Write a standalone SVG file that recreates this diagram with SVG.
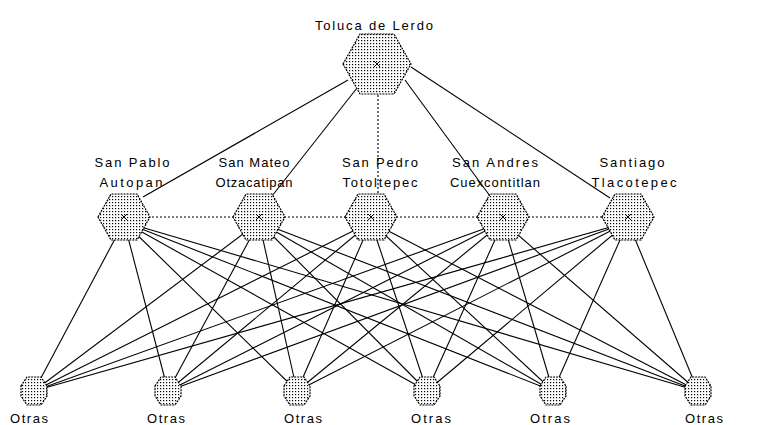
<svg xmlns="http://www.w3.org/2000/svg" width="774" height="425" viewBox="0 0 774 425">
<defs>
<pattern id="dots" width="3" height="3" patternUnits="userSpaceOnUse">
<rect width="3" height="3" fill="#fff"/>
<rect x="1" y="1" width="1.2" height="1.2" fill="#000"/>
</pattern>
<style>
.node{fill:url(#dots);stroke:#000;stroke-width:1.2;stroke-dasharray:2 1}
.x{stroke:#000;stroke-width:1;fill:none}
.lbl{font-family:"Liberation Sans",Arial,sans-serif;font-size:13px;fill:#000;text-anchor:middle}
.e{stroke:#000;stroke-width:1.1;fill:none}
.d{stroke:#000;stroke-width:1.1;fill:none;stroke-dasharray:2 2}
</style>
</defs>
<rect width="774" height="425" fill="#fff"/>
<g id="connectors">
<line class="e" x1="348" y1="80" x2="143" y2="197"/>
<line class="e" x1="357" y1="88" x2="272" y2="196"/>
<line class="d" x1="378" y1="95" x2="378" y2="196"/>
<line class="e" x1="405" y1="80" x2="490" y2="196"/>
<line class="e" x1="411" y1="67" x2="610" y2="198"/>
<line class="d" x1="124" y1="217" x2="628" y2="217"/>
<g>
<line class="e" x1="124" y1="222" x2="34" y2="391"/>
<line class="e" x1="124" y1="222" x2="168" y2="391"/>
<line class="e" x1="124" y1="222" x2="297" y2="391"/>
<line class="e" x1="124" y1="222" x2="427" y2="391"/>
<line class="e" x1="124" y1="222" x2="553" y2="391"/>
<line class="e" x1="124" y1="222" x2="698" y2="391"/>
<line class="e" x1="259" y1="222" x2="34" y2="391"/>
<line class="e" x1="259" y1="222" x2="168" y2="391"/>
<line class="e" x1="259" y1="222" x2="297" y2="391"/>
<line class="e" x1="259" y1="222" x2="427" y2="391"/>
<line class="e" x1="259" y1="222" x2="553" y2="391"/>
<line class="e" x1="259" y1="222" x2="698" y2="391"/>
<line class="e" x1="371" y1="222" x2="34" y2="391"/>
<line class="e" x1="371" y1="222" x2="168" y2="391"/>
<line class="e" x1="371" y1="222" x2="297" y2="391"/>
<line class="e" x1="371" y1="222" x2="427" y2="391"/>
<line class="e" x1="371" y1="222" x2="553" y2="391"/>
<line class="e" x1="371" y1="222" x2="698" y2="391"/>
<line class="e" x1="503" y1="222" x2="34" y2="391"/>
<line class="e" x1="503" y1="222" x2="168" y2="391"/>
<line class="e" x1="503" y1="222" x2="297" y2="391"/>
<line class="e" x1="503" y1="222" x2="427" y2="391"/>
<line class="e" x1="503" y1="222" x2="553" y2="391"/>
<line class="e" x1="503" y1="222" x2="698" y2="391"/>
<line class="e" x1="628" y1="222" x2="34" y2="391"/>
<line class="e" x1="628" y1="222" x2="168" y2="391"/>
<line class="e" x1="628" y1="222" x2="297" y2="391"/>
<line class="e" x1="628" y1="222" x2="427" y2="391"/>
<line class="e" x1="628" y1="222" x2="553" y2="391"/>
<line class="e" x1="628" y1="222" x2="698" y2="391"/>
</g>
</g>
<g id="toluca">
<polygon class="node" points="343,64 360,34 394,34 411,64 394,94 360,94"/>
<path class="x" d="M374,61 l6,6 M380,61 l-6,6"/>
<text class="lbl" x="374" y="30" textLength="118" lengthAdjust="spacing">Toluca de Lerdo</text>
</g>
<g id="san-pablo">
<polygon class="node" points="98,217 111,194 137,194 150,217 137,240 111,240"/>
<path class="x" d="M121,214 l6,6 M127,214 l-6,6"/>
<text class="lbl" x="132" y="167" textLength="75" lengthAdjust="spacing">San Pablo</text>
<text class="lbl" x="131" y="187" textLength="63" lengthAdjust="spacing">Autopan</text>
</g>
<g id="san-mateo">
<polygon class="node" points="233,217 246,194 272,194 285,217 272,240 246,240"/>
<path class="x" d="M256,214 l6,6 M262,214 l-6,6"/>
<text class="lbl" x="254" y="167" textLength="71" lengthAdjust="spacing">San Mateo</text>
<text class="lbl" x="254" y="187" textLength="77" lengthAdjust="spacing">Otzacatipan</text>
</g>
<g id="san-pedro">
<polygon class="node" points="345,217 358,194 384,194 397,217 384,240 358,240"/>
<path class="x" d="M368,214 l6,6 M374,214 l-6,6"/>
<text class="lbl" x="380" y="167" textLength="76" lengthAdjust="spacing">San Pedro</text>
<text class="lbl" x="380" y="187" textLength="75" lengthAdjust="spacing">Totoltepec</text>
</g>
<g id="san-andres">
<polygon class="node" points="477,217 490,194 516,194 529,217 516,240 490,240"/>
<path class="x" d="M500,214 l6,6 M506,214 l-6,6"/>
<text class="lbl" x="495" y="167" textLength="86" lengthAdjust="spacing">San Andres</text>
<text class="lbl" x="495" y="187" textLength="90" lengthAdjust="spacing">Cuexcontitlan</text>
</g>
<g id="santiago">
<polygon class="node" points="602,217 615,194 641,194 654,217 641,240 615,240"/>
<path class="x" d="M625,214 l6,6 M631,214 l-6,6"/>
<text class="lbl" x="632" y="167" textLength="65" lengthAdjust="spacing">Santiago</text>
<text class="lbl" x="634" y="187" textLength="85" lengthAdjust="spacing">Tlacotepec</text>
</g>
<g id="otras-1">
<polygon class="node" points="21,386 27,377 41,377 47,386 47,396 41,405 27,405 21,396"/>
<text class="lbl" x="29" y="423" textLength="38" lengthAdjust="spacing">Otras</text>
</g>
<g id="otras-2">
<polygon class="node" points="155,386 161,377 175,377 181,386 181,396 175,405 161,405 155,396"/>
<text class="lbl" x="166" y="423" textLength="38" lengthAdjust="spacing">Otras</text>
</g>
<g id="otras-3">
<polygon class="node" points="284,386 290,377 304,377 310,386 310,396 304,405 290,405 284,396"/>
<text class="lbl" x="303" y="423" textLength="38" lengthAdjust="spacing">Otras</text>
</g>
<g id="otras-4">
<polygon class="node" points="414,386 420,377 434,377 440,386 440,396 434,405 420,405 414,396"/>
<text class="lbl" x="431" y="423" textLength="40" lengthAdjust="spacing">Otras</text>
</g>
<g id="otras-5">
<polygon class="node" points="540,386 546,377 560,377 566,386 566,396 560,405 546,405 540,396"/>
<text class="lbl" x="550" y="423" textLength="40" lengthAdjust="spacing">Otras</text>
</g>
<g id="otras-6">
<polygon class="node" points="685,386 691,377 705,377 711,386 711,396 705,405 691,405 685,396"/>
<text class="lbl" x="704" y="423" textLength="38" lengthAdjust="spacing">Otras</text>
</g>
</svg>
